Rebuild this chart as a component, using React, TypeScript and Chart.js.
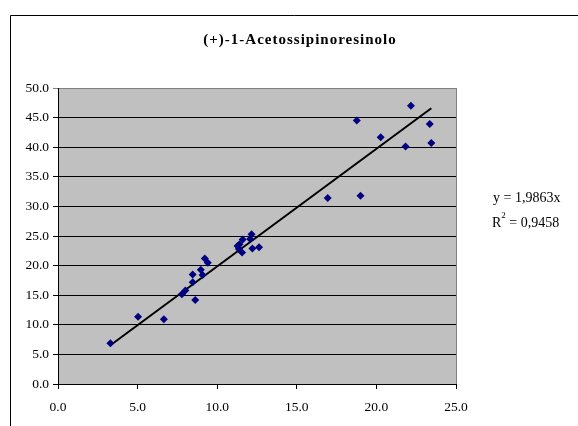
import React, { useEffect, useRef } from "react";
import { Chart, registerables } from "chart.js";

Chart.register(...registerables);

const chartTitle = "(+)-1-Acetossipinoresinolo";
const xValues = [3.29, 5.03, 6.65, 7.78, 8.0, 8.46, 8.46, 8.62, 8.97, 9.08, 9.22, 9.41, 11.28, 11.36, 11.4, 11.56, 11.6, 12.07, 12.16, 12.21, 12.63, 16.94, 18.77, 19.0, 20.27, 21.83, 22.17, 23.35, 23.45];
const yValues = [6.87, 11.37, 10.92, 15.15, 15.8, 17.2, 18.5, 14.2, 19.3, 18.4, 21.2, 20.5, 23.3, 22.8, 23.6, 22.2, 24.4, 24.5, 25.3, 22.9, 23.1, 31.4, 44.5, 31.8, 41.7, 40.1, 47.0, 43.9, 40.7];
const trendSlope = 1.9863;
const trendX = [3.29, 23.45];
const equationText = "y = 1,9863x";
const r2Label = "R";
const r2Value = " = 0,9458";
const xTicks = [0, 5, 10, 15, 20, 25];
const yTicks = [0, 5, 10, 15, 20, 25, 30, 35, 40, 45, 50];

const FONT = "'Liberation Serif', 'Times New Roman', serif";

export default function App() {
  const ref = useRef<HTMLCanvasElement>(null);
  useEffect(() => {
    if (!ref.current) return;
    const decor = {
      id: "decor",
      beforeDraw(chart: any) {
        const { ctx, chartArea: a } = chart;
        ctx.save();
        ctx.fillStyle = "#ffffff";
        ctx.fillRect(0, 0, chart.width, chart.height);
        ctx.fillStyle = "#C0C0C0";
        ctx.fillRect(a.left, a.top, a.right - a.left, a.bottom - a.top);
        ctx.restore();
      },
      afterDraw(chart: any) {
        const { ctx, chartArea: a } = chart;
        ctx.save();
        ctx.strokeStyle = "#808080";
        ctx.lineWidth = 1;
        ctx.beginPath();
        ctx.moveTo(Math.round(a.right) + 0.5, a.top);
        ctx.lineTo(Math.round(a.right) + 0.5, a.bottom);
        ctx.stroke();
        ctx.strokeStyle = "#000000";
        ctx.lineWidth = 1;
        ctx.beginPath();
        ctx.moveTo(10.5, 430);
        ctx.lineTo(10.5, 15.5);
        ctx.lineTo(590, 15.5);
        ctx.stroke();
        ctx.fillStyle = "#000";
        ctx.font = `bold 15px ${FONT}`;
        ctx.textAlign = "center";
        ctx.textBaseline = "middle";
        try { (ctx as any).letterSpacing = "1px"; } catch (e) {}
        ctx.fillText(chartTitle, 300, 40);
        try { (ctx as any).letterSpacing = "0px"; } catch (e) {}
        ctx.font = `14px ${FONT}`;
        ctx.textAlign = "left";
        ctx.fillText(equationText, 493, 198);
        ctx.fillText(r2Label, 492, 223);
        const rw = ctx.measureText(r2Label).width;
        ctx.font = `9px ${FONT}`;
        ctx.fillText("2", 492 + rw, 216);
        const sw = ctx.measureText("2").width;
        ctx.font = `14px ${FONT}`;
        ctx.fillText(r2Value, 492 + rw + sw, 223);
        ctx.restore();
      },
    };
    const chart = new Chart(ref.current, {
      type: "scatter",
      data: {
        datasets: [
          {
            type: "line",
            data: trendX.map((x) => ({ x, y: x * trendSlope })),
            borderColor: "#000000",
            borderWidth: 2,
            pointRadius: 0,
            fill: false,
            order: 2,
          } as any,
          {
            data: xValues.map((x, i) => ({ x, y: yValues[i] })),
            pointStyle: "rectRot",
            pointRadius: 4,
            backgroundColor: "#000080",
            borderColor: "#000080",
            borderWidth: 0,
            order: 1,
          },
        ],
      },
      options: {
        responsive: false,
        animation: false,
        devicePixelRatio: 1,
        layout: { padding: { left: 0, top: 88, right: 122, bottom: 0 } },
        plugins: { legend: { display: false }, title: { display: false }, tooltip: { enabled: false } },
        scales: {
          x: {
            type: "linear",
            min: 0,
            max: 25,
            afterBuildTicks: (s: any) => { s.ticks = xTicks.map((v) => ({ value: v })); },
            afterFit: (s: any) => { s.height = 42; },
            ticks: {
              color: "#000",
              font: { family: FONT, size: 13.5 },
              padding: 10,
              maxRotation: 0,
              callback: (v: any) => Number(v).toFixed(1),
            },
            grid: { drawOnChartArea: false, drawTicks: true, tickLength: 5, color: "#000" },
            border: { display: true, color: "#000", width: 1 },
          },
          y: {
            type: "linear",
            min: 0,
            max: 50,
            afterBuildTicks: (s: any) => { s.ticks = yTicks.map((v) => ({ value: v })); },
            afterFit: (s: any) => { s.width = 58; },
            ticks: {
              color: "#000",
              font: { family: FONT, size: 13.5 },
              padding: 4,
              callback: (v: any) => Number(v).toFixed(1),
            },
            grid: {
              color: (c: any) => (c.tick && c.tick.value === 50 ? "#808080" : "#000"),
              tickLength: 5,
              lineWidth: 1,
            },
            border: { display: true, color: "#000", width: 1 },
          },
        },
      },
      plugins: [decor],
    });
    return () => chart.destroy();
  }, []);
  return (
    <div style={{ position: "fixed", left: 0, top: 0, width: 578, height: 426, background: "#fff" }}>
      <canvas ref={ref} width={578} height={426} style={{ display: "block" }} />
    </div>
  );
}
